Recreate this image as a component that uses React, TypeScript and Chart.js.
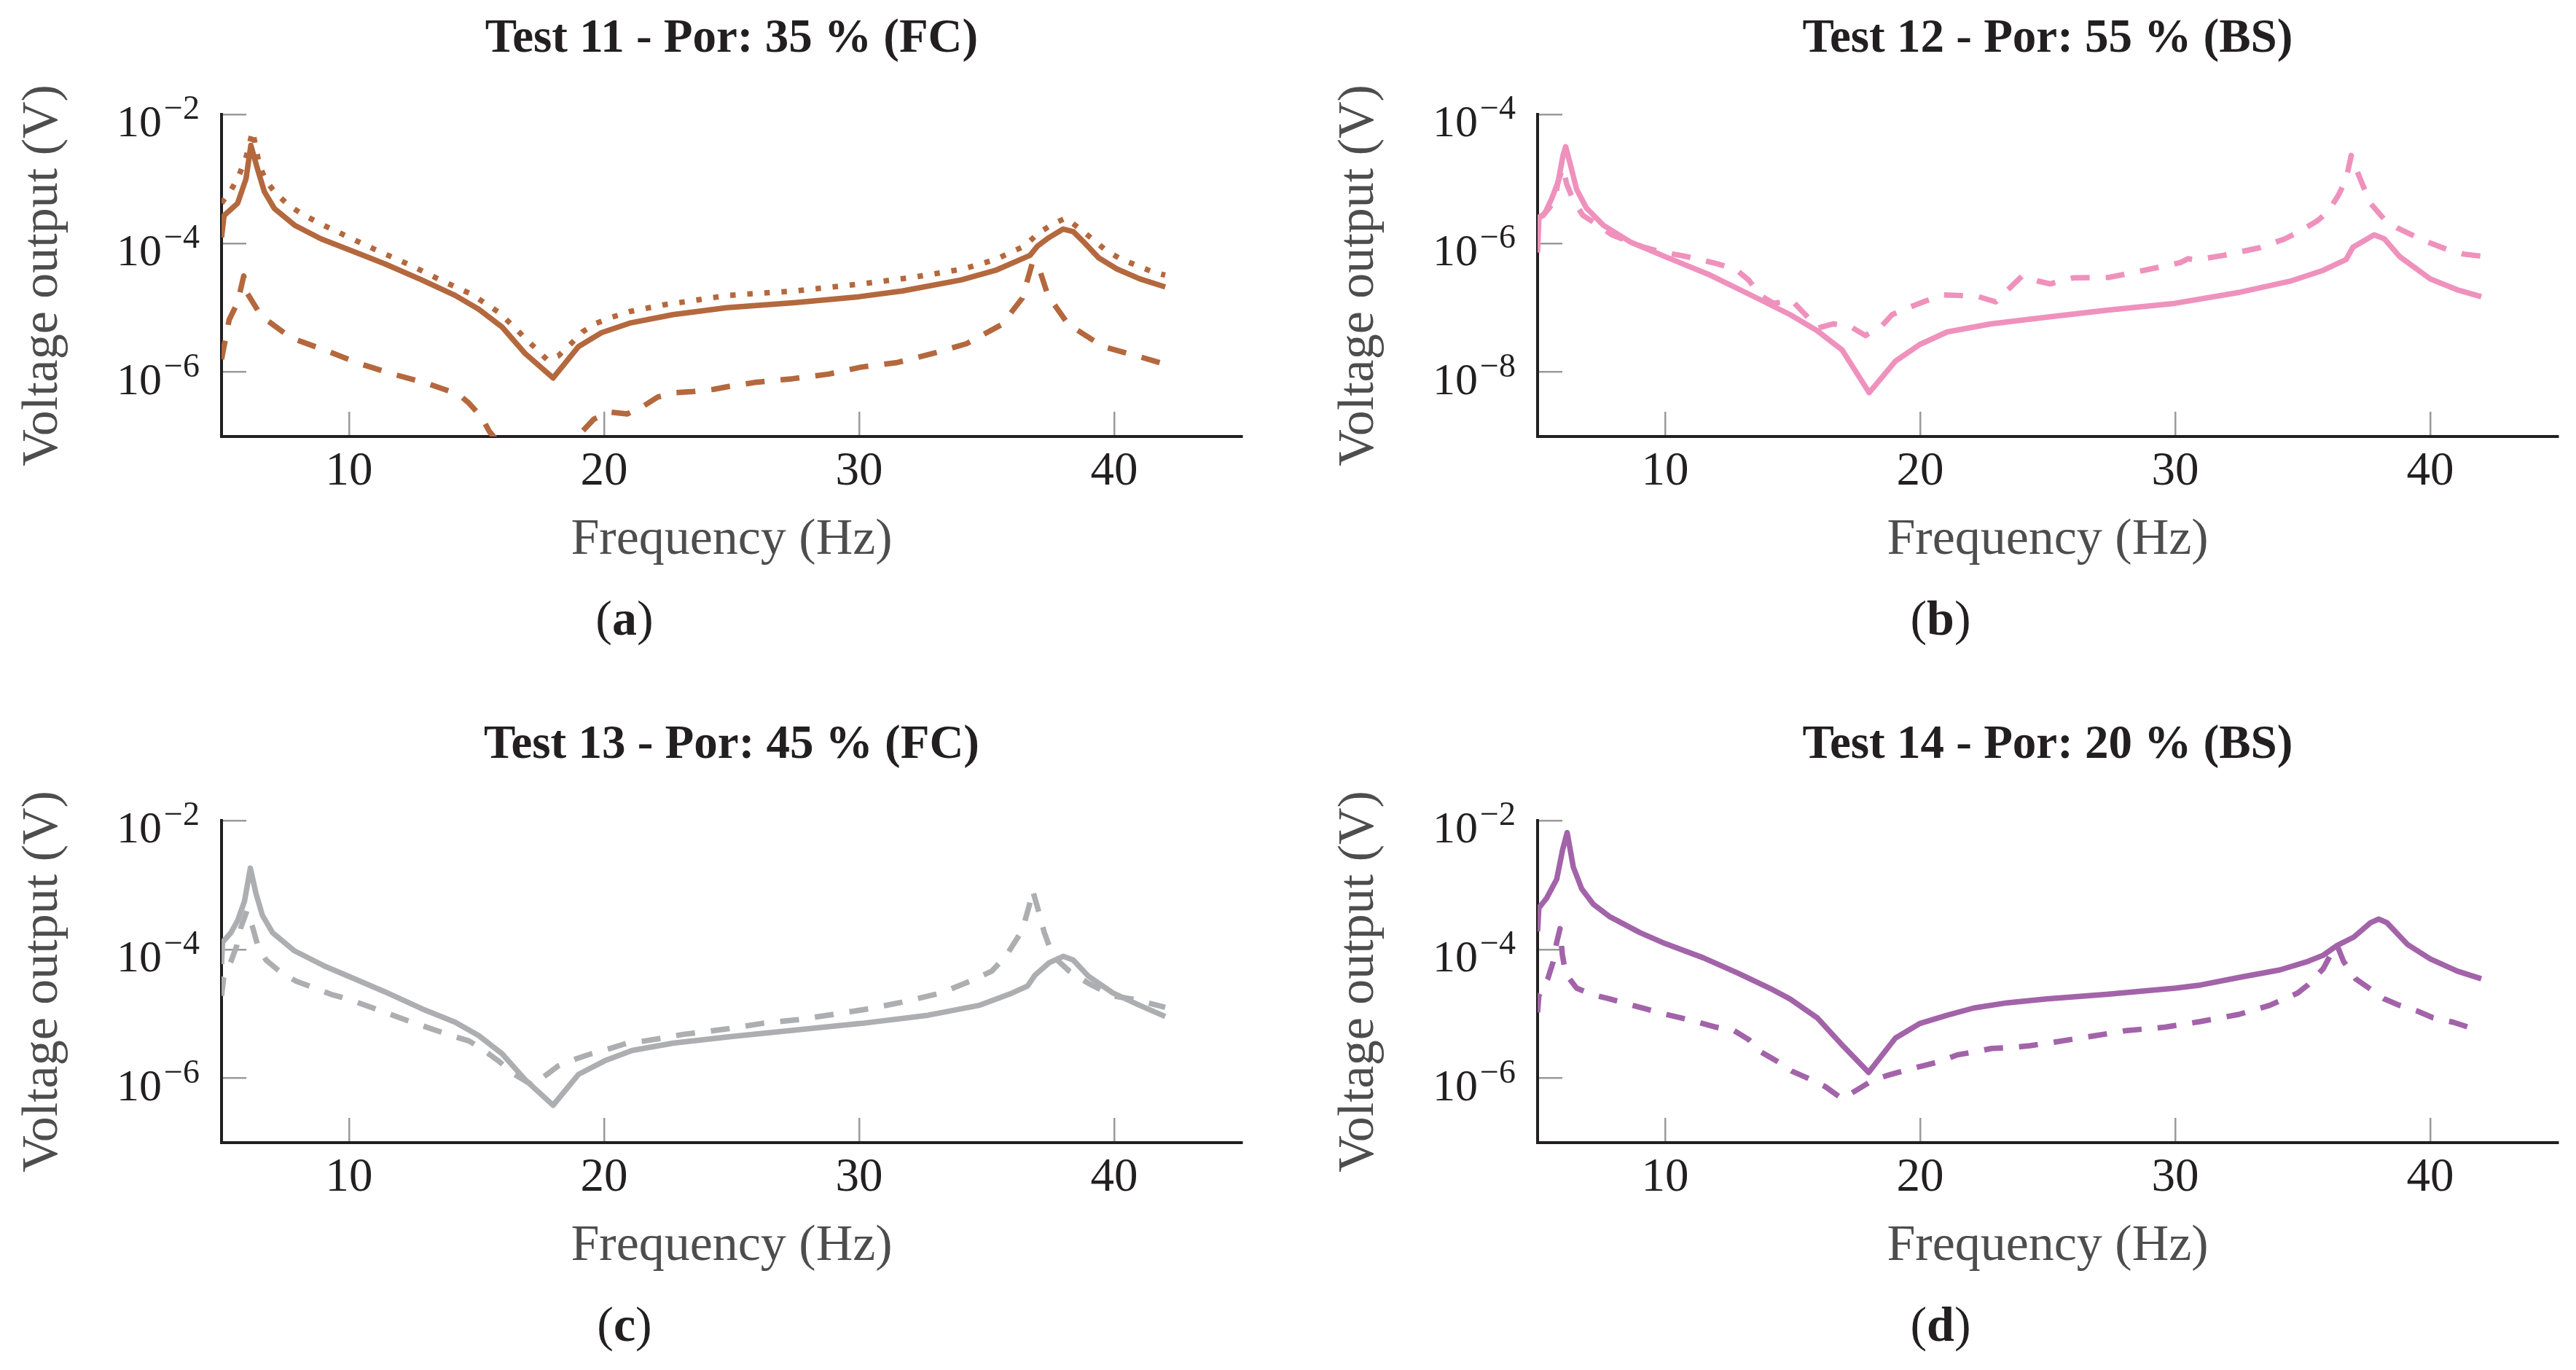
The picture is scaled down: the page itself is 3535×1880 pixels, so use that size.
import { useEffect, useRef } from 'react';
import { Chart, registerables } from 'chart.js';
Chart.register(...registerables);

const SERIF = "'Liberation Serif', 'DejaVu Serif', serif";

const xTicks = [10, 20, 30, 40];
const yTicksHigh = [1e-2, 1e-4, 1e-6];
const yTicksLow = [1e-4, 1e-6, 1e-8];

// Test 11 (a)
const t11SolidHz = [5, 5.1, 5.63, 5.96, 6.15, 6.42, 6.68, 7.07, 7.86, 8.9, 10, 11.4, 12.85, 14.16, 15.08, 16, 16.9, 18, 19, 19.9, 21, 22.7, 24.8, 27.5, 30, 31.7, 34, 35.35, 36.7, 37, 37.45, 38, 38.4, 38.8, 39.4, 40.1, 41, 42];
const t11SolidV = [1.23e-4, 2.69e-4, 4.17e-4, 1.0e-3, 3.31e-3, 1.38e-3, 6.31e-4, 3.47e-4, 1.91e-4, 1.17e-4, 7.9e-5, 4.8e-5, 2.7e-5, 1.55e-5, 9.5e-6, 5.0e-6, 1.95e-6, 8.1e-7, 2.5e-6, 4.1e-6, 5.75e-6, 7.8e-6, 1.0e-5, 1.2e-5, 1.48e-5, 1.82e-5, 2.7e-5, 3.8e-5, 6.5e-5, 9.1e-5, 1.23e-4, 1.66e-4, 1.51e-4, 1.05e-4, 5.9e-5, 4.0e-5, 2.8e-5, 2.1e-5];
const t11DashedHz = [5, 5.3, 5.63, 5.87, 6.0, 6.42, 6.8, 7.73, 9.04, 10.35, 11.73, 13.1, 14.3, 14.7, 15.2, 15.5, 16.5, 17.5, 18.5, 19.1, 19.6, 20.2, 20.9, 21.5, 22.1, 22.8, 23.5, 24.3, 24.9, 25.9, 27.4, 28.8, 30.1, 31.5, 32.9, 34.2, 35.6, 36.4, 36.8, 37.1, 37.4, 38.2, 39.55, 40.9, 42];
const t11DashedV = [1.58e-6, 6.5e-6, 1.2e-5, 3.1e-5, 1.7e-5, 9.1e-6, 6.3e-6, 3.4e-6, 2.2e-6, 1.38e-6, 9.3e-7, 6.6e-7, 4.5e-7, 3.3e-7, 2.0e-7, 1.2e-7, 4e-8, 2.5e-8, 5e-8, 1.15e-7, 1.86e-7, 2.4e-7, 2.24e-7, 2.9e-7, 4.1e-7, 4.8e-7, 5.0e-7, 5.4e-7, 6.0e-7, 6.9e-7, 7.9e-7, 9.3e-7, 1.2e-6, 1.41e-6, 1.95e-6, 2.75e-6, 5.5e-6, 1.41e-5, 5.1e-5, 3.6e-5, 1.55e-5, 5.5e-6, 2.5e-6, 1.78e-6, 1.32e-6];
const t11DottedHz = [5, 5.37, 5.7, 5.96, 6.22, 6.48, 6.74, 7.14, 7.66, 8.19, 8.78, 10, 11.14, 12.39, 13.57, 14.8, 15.9, 16.8, 17.77, 18.2, 18.7, 19.15, 19.7, 20.3, 21, 22.3, 23.5, 24.86, 27.5, 30.1, 32.1, 34.1, 35.35, 36.5, 37, 37.6, 38.1, 38.6, 39.2, 39.7, 40.3, 40.9, 41.5, 42];
const t11DottedV = [4.2e-4, 6.6e-4, 1.17e-3, 2.14e-3, 5.5e-3, 1.66e-3, 9.3e-4, 5.9e-4, 3.8e-4, 2.8e-4, 2.1e-4, 1.23e-4, 7.6e-5, 4.6e-5, 2.7e-5, 1.62e-5, 8.3e-6, 3.7e-6, 1.55e-6, 1.78e-6, 2.75e-6, 4.2e-6, 5.75e-6, 7.1e-6, 8.7e-6, 1.1e-5, 1.29e-5, 1.55e-5, 1.82e-5, 2.34e-5, 2.95e-5, 4.0e-5, 5.6e-5, 9.1e-5, 1.41e-4, 2.0e-4, 2.45e-4, 1.74e-4, 1.12e-4, 7.6e-5, 5.6e-5, 4.5e-5, 3.6e-5, 3.2e-5];

// Test 12 (b)
const t12SolidHz = [5, 5.05, 5.29, 5.55, 5.81, 6.0, 6.1, 6.26, 6.53, 6.92, 7.58, 8.63, 10, 11.77, 13.6, 14.9, 15.96, 16.94, 18.0, 19.03, 20.0, 21.06, 22.76, 24.96, 27.3, 30, 32.55, 34.5, 35.8, 36.7, 36.97, 37.8, 38.2, 38.8, 40.0, 41.05, 42];
const t12SolidV = [7.2e-7, 2.45e-6, 2.95e-6, 4.9e-6, 9.1e-6, 2.34e-5, 3.16e-5, 1.82e-5, 6.9e-6, 3.5e-6, 1.9e-6, 1.05e-6, 6.2e-7, 3.2e-7, 1.41e-7, 7.8e-8, 4.4e-8, 2.2e-8, 4.8e-9, 1.48e-8, 2.7e-8, 4.2e-8, 5.6e-8, 7.1e-8, 9.1e-8, 1.17e-7, 1.74e-7, 2.57e-7, 3.8e-7, 5.6e-7, 8.7e-7, 1.35e-6, 1.17e-6, 6.2e-7, 2.8e-7, 1.9e-7, 1.48e-7];
const t12DashedHz = [5, 5.22, 5.68, 5.8, 6.0, 6.14, 6.41, 6.78, 7.39, 7.91, 8.63, 9.16, 9.93, 10.59, 11.37, 12.03, 12.75, 13.27, 13.73, 14.25, 14.97, 15.5, 15.96, 16.6, 17.3, 17.85, 18.45, 18.9, 19.55, 20.2, 20.9, 21.5, 22.3, 22.96, 23.5, 24.0, 24.6, 25.1, 26, 27.4, 28.5, 30.2, 30.5, 30.8, 31.9, 33.3, 34.3, 34.85, 35.55, 36.0, 36.4, 36.7, 36.9, 37.1, 37.4, 37.65, 38.2, 38.7, 39.7, 40.7, 41.3, 42];
const t12DashedV = [2.5e-6, 2.7e-6, 4.6e-6, 9.1e-6, 1.51e-5, 8.3e-6, 4.6e-6, 2.7e-6, 1.9e-6, 1.35e-6, 1.05e-6, 8.7e-7, 7.2e-7, 6.5e-7, 5.6e-7, 4.8e-7, 4.0e-7, 2.7e-7, 1.55e-7, 1.17e-7, 1.29e-7, 7.8e-8, 4.8e-8, 5.6e-8, 5.0e-8, 3.7e-8, 5.0e-8, 7.8e-8, 1.0e-7, 1.26e-7, 1.58e-7, 1.55e-7, 1.48e-7, 1.23e-7, 2.0e-7, 3.1e-7, 2.6e-7, 2.34e-7, 2.9e-7, 2.95e-7, 3.6e-7, 5.0e-7, 5.75e-7, 5.5e-7, 6.5e-7, 8.5e-7, 1.17e-6, 1.51e-6, 2.2e-6, 3.1e-6, 5.6e-6, 9.8e-6, 2.3e-5, 1.41e-5, 7.2e-6, 4.2e-6, 2.34e-6, 1.74e-6, 1.12e-6, 7.9e-7, 6.8e-7, 6.3e-7];

// Test 13 (c)
const t13SolidHz = [5, 5.04, 5.37, 5.63, 5.9, 6.13, 6.35, 6.6, 7.0, 7.86, 9.04, 10, 11.4, 12.85, 14.16, 15.08, 16, 16.9, 18, 19, 20.07, 21.1, 22.7, 24.9, 27.5, 30.1, 32.7, 34.7, 36.0, 36.6, 36.9, 37.45, 38.0, 38.4, 39.0, 39.95, 41.0, 42];
const t13SolidV = [5.9e-5, 1.29e-4, 1.82e-4, 2.8e-4, 5.6e-4, 1.82e-3, 7.4e-4, 3.4e-4, 1.82e-4, 9.5e-5, 5.5e-5, 3.8e-5, 2.2e-5, 1.2e-5, 7.4e-6, 4.6e-6, 2.4e-6, 9.5e-7, 3.8e-7, 1.15e-6, 1.9e-6, 2.7e-6, 3.5e-6, 4.4e-6, 5.6e-6, 7.1e-6, 9.5e-6, 1.35e-5, 2.1e-5, 2.7e-5, 4.0e-5, 6.2e-5, 7.8e-5, 6.8e-5, 3.8e-5, 2.1e-5, 1.35e-5, 9.1e-6];
const t13DashedHz = [5, 5.08, 5.37, 5.6, 5.76, 6.0, 6.22, 6.42, 6.75, 7.33, 7.93, 8.65, 9.3, 9.96, 11.27, 12.6, 14.0, 14.7, 15.3, 15.9, 16.4, 17.2, 18.2, 18.9, 19.5, 20.3, 20.9, 21.6, 22.3, 23.1, 23.7, 24.9, 26.2, 27.6, 29.0, 30.4, 31.8, 33.2, 34.5, 35.2, 35.75, 36.4, 36.67, 36.8, 37.0, 37.26, 37.6, 38.24, 39.0, 39.95, 40.7, 41.9, 42];
const t13DashedV = [1.9e-5, 3.5e-5, 6.5e-5, 1.15e-4, 2.2e-4, 4.0e-4, 2.2e-4, 1.15e-4, 6.8e-5, 4.4e-5, 3.2e-5, 2.5e-5, 2.0e-5, 1.7e-5, 1.1e-5, 7.1e-6, 4.6e-6, 3.8e-6, 2.7e-6, 1.8e-6, 1.2e-6, 7.8e-7, 1.55e-6, 2.0e-6, 2.4e-6, 2.95e-6, 3.5e-6, 3.8e-6, 4.2e-6, 4.8e-6, 5.1e-6, 5.9e-6, 7.1e-6, 8.1e-6, 9.8e-6, 1.2e-5, 1.55e-5, 2.1e-5, 3.4e-5, 4.6e-5, 7.8e-5, 2.0e-4, 4.8e-4, 8.3e-4, 4.4e-4, 1.82e-4, 7.8e-5, 4.6e-5, 2.95e-5, 1.9e-5, 1.7e-5, 1.29e-5, 1.26e-5];

// Test 14 (d)
const t14SolidHz = [5, 5.05, 5.35, 5.75, 5.98, 6.16, 6.4, 6.73, 7.19, 7.84, 9.02, 10, 11.5, 12.9, 14.1, 14.9, 15.96, 17.0, 17.98, 19.03, 20.0, 21.06, 22.1, 23.4, 24.96, 27.3, 30.0, 31.0, 32.55, 34.1, 35.2, 35.8, 36.35, 37.0, 37.66, 37.98, 38.3, 39.1, 40.0, 41.06, 42];
const t14SolidV = [1.9e-4, 4.4e-4, 6.2e-4, 1.23e-3, 3.5e-3, 6.5e-3, 1.9e-3, 8.7e-4, 5.0e-4, 3.2e-4, 1.82e-4, 1.23e-4, 7.4e-5, 4.2e-5, 2.5e-5, 1.7e-5, 8.7e-6, 3.1e-6, 1.23e-6, 4.2e-6, 7.1e-6, 9.5e-6, 1.23e-5, 1.48e-5, 1.7e-5, 2.0e-5, 2.5e-5, 2.8e-5, 3.7e-5, 4.8e-5, 6.5e-5, 8.1e-5, 1.15e-4, 1.55e-4, 2.6e-4, 2.95e-4, 2.6e-4, 1.2e-4, 7.1e-5, 4.6e-5, 3.5e-5];
const t14DashedHz = [5, 5.05, 5.4, 5.6, 5.75, 5.88, 5.97, 6.1, 6.53, 7.12, 7.84, 8.56, 9.21, 9.93, 10.6, 11.3, 12.0, 12.7, 13.27, 13.73, 14.4, 14.97, 15.6, 16.28, 16.94, 17.5, 18.1, 18.7, 19.4, 20.08, 20.8, 21.45, 22.2, 22.8, 23.6, 24.3, 25.0, 26.9, 28.1, 29.6, 31.0, 32.5, 33.7, 34.8, 35.2, 35.8, 36.1, 36.35, 36.6, 37.07, 37.6, 38.2, 38.8, 39.5, 40.1, 40.9, 41.5, 42];
const t14DashedV = [1.05e-5, 1.9e-5, 3.5e-5, 6.2e-5, 1.29e-4, 2.1e-4, 8.3e-5, 4.2e-5, 2.5e-5, 2.0e-5, 1.7e-5, 1.41e-5, 1.2e-5, 1.0e-5, 8.7e-6, 7.4e-6, 6.2e-6, 5.5e-6, 4.0e-6, 2.6e-6, 1.82e-6, 1.29e-6, 1.0e-6, 7.4e-7, 4.8e-7, 6.5e-7, 9.1e-7, 1.1e-6, 1.32e-6, 1.55e-6, 1.82e-6, 2.3e-6, 2.6e-6, 2.9e-6, 3.0e-6, 3.2e-6, 3.5e-6, 4.6e-6, 5.5e-6, 6.2e-6, 7.6e-6, 9.8e-6, 1.35e-5, 2.1e-5, 2.8e-5, 5.0e-5, 8.3e-5, 1.15e-4, 6.5e-5, 3.5e-5, 2.5e-5, 1.7e-5, 1.35e-5, 1.1e-5, 8.7e-6, 7.4e-6, 6.2e-6, 5.75e-6];

const SOLID: number[] = [];
const DASHED = [26, 22];
const DOTTED = [7.5, 16];

const W = 1729;
const H = 910;
const COL = 1806;
const ROW = 969;

const panels = [
  {
    tag: 'a', title: 'Test 11 - Por: 35 % (FC)', color: '#b4683e', yMin: 1e-7, yMax: 1e-2, yTicks: yTicksHigh, col: 0, row: 0,
    series: [
      { hz: t11DottedHz, v: t11DottedV, dash: DOTTED },
      { hz: t11DashedHz, v: t11DashedV, dash: DASHED },
      { hz: t11SolidHz, v: t11SolidV, dash: SOLID },
    ],
  },
  {
    tag: 'b', title: 'Test 12 - Por: 55 % (BS)', color: '#ef91bd', yMin: 1e-9, yMax: 1e-4, yTicks: yTicksLow, col: 1, row: 0,
    series: [
      { hz: t12DashedHz, v: t12DashedV, dash: DASHED },
      { hz: t12SolidHz, v: t12SolidV, dash: SOLID },
    ],
  },
  {
    tag: 'c', title: 'Test 13 - Por: 45 % (FC)', color: '#adaeb1', yMin: 1e-7, yMax: 1e-2, yTicks: yTicksHigh, col: 0, row: 1,
    series: [
      { hz: t13DashedHz, v: t13DashedV, dash: DASHED },
      { hz: t13SolidHz, v: t13SolidV, dash: SOLID },
    ],
  },
  {
    tag: 'd', title: 'Test 14 - Por: 20 % (BS)', color: '#a263a9', yMin: 1e-7, yMax: 1e-2, yTicks: yTicksHigh, col: 1, row: 1,
    series: [
      { hz: t14DashedHz, v: t14DashedV, dash: DASHED },
      { hz: t14SolidHz, v: t14SolidV, dash: SOLID },
    ],
  },
];

// y labels as 10 with a raised exponent, like the TeX original
const logTickLabels = {
  id: 'logTickLabels',
  afterDraw(chart: any) {
    const s = chart.scales.y;
    const ctx = chart.ctx;
    ctx.save();
    ctx.fillStyle = '#231f20';
    ctx.textAlign = 'right';
    ctx.textBaseline = 'alphabetic';
    for (const t of s.ticks) {
      const y = s.getPixelForValue(t.value);
      const sup = '\u2212' + Math.abs(Math.round(Math.log10(t.value)));
      const right = s.right - 30;
      ctx.font = `46px ${SERIF}`;
      const w = ctx.measureText(sup).width;
      ctx.fillText(sup, right, y + 6);
      ctx.font = `62px ${SERIF}`;
      ctx.fillText('10', right - w - 3, y + 30);
    }
    ctx.restore();
  },
};

function Panel({ p }: { p: (typeof panels)[number] }) {
  const ref = useRef<HTMLCanvasElement>(null);

  useEffect(() => {
    const grid = { drawOnChartArea: false, drawTicks: true, tickLength: -34, color: '#9a9a9a', lineWidth: 2.5 };
    const border = { display: true, color: '#231f20', width: 4 };
    const chart = new Chart(ref.current!, {
      type: 'line',
      data: {
        datasets: p.series.map((s) => ({
          data: s.hz.map((x, i) => ({ x, y: s.v[i] })),
          borderColor: p.color,
          borderWidth: 7.5,
          borderDash: s.dash,
          borderCapStyle: 'butt',
          borderJoinStyle: 'round',
          pointRadius: 0,
          tension: 0,
          fill: false,
        })),
      },
      options: {
        animation: false,
        responsive: false,
        devicePixelRatio: 1,
        layout: { padding: { top: 0, left: 0, right: W - 1704, bottom: 0 } },
        plugins: {
          legend: { display: false },
          tooltip: { enabled: false },
          title: {
            display: true, text: p.title, fullSize: false, color: '#231f20',
            font: { family: SERIF, size: 65, weight: 'bold', lineHeight: 1.2 },
            padding: { top: 15.5, bottom: 63.5 },
          },
        },
        scales: {
          x: {
            type: 'linear', min: 5, max: 45,
            afterBuildTicks: (s: any) => { s.ticks = xTicks.map((value) => ({ value })); },
            afterFit: (s: any) => { s.height = H - 599; },
            grid, border,
            ticks: { color: '#231f20', font: { family: SERIF, size: 65, lineHeight: 1.2 }, padding: 44, maxRotation: 0, autoSkip: false },
            title: {
              display: true, text: 'Frequency (Hz)', color: '#4d4d4d',
              font: { family: SERIF, size: 70, lineHeight: 1.2 }, padding: { top: 0, bottom: 126.5 },
            },
          },
          y: {
            type: 'logarithmic', min: p.yMin, max: p.yMax,
            afterBuildTicks: (s: any) => { s.ticks = p.yTicks.map((value) => ({ value })); },
            afterFit: (s: any) => { s.width = 304; },
            grid, border,
            ticks: { display: false },
            title: {
              display: true, text: 'Voltage output (V)', color: '#4d4d4d',
              font: { family: SERIF, size: 70, lineHeight: 1.2 }, padding: { top: 18, bottom: 0 },
            },
          },
        },
      } as any,
      plugins: [logTickLabels],
    });
    return () => chart.destroy();
  }, [p]);

  return (
    <>
      <canvas
        ref={ref}
        width={W}
        height={H}
        style={{ position: 'absolute', left: p.col * COL, top: p.row * ROW, width: W, height: H }}
      />
      <div
        style={{
          position: 'absolute', left: p.col * COL + 857 - 200, top: p.row * ROW + 808, width: 400,
          textAlign: 'center', fontFamily: SERIF, fontSize: 68, lineHeight: '80px', color: '#231f20',
        }}
      >
        (<b>{p.tag}</b>)
      </div>
    </>
  );
}

export default function App() {
  return (
    <div style={{ position: 'absolute', left: 0, top: 0, width: 3535, height: 1880, background: '#fff', overflow: 'hidden' }}>
      {panels.map((p) => <Panel key={p.tag} p={p} />)}
    </div>
  );
}
